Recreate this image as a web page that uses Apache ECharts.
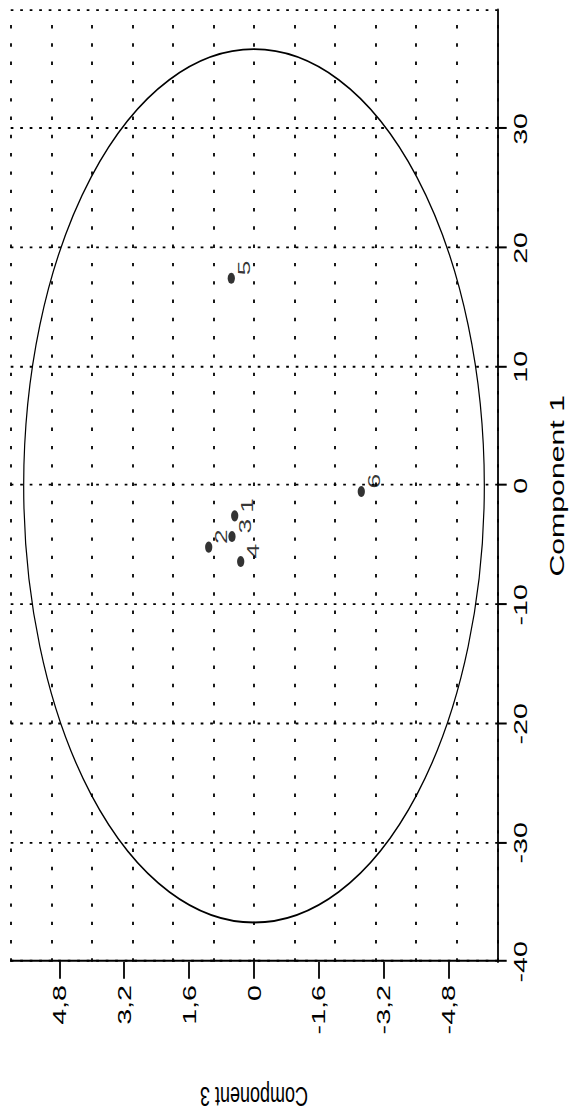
<!DOCTYPE html>
<html>
<head>
<meta charset="utf-8">
<script src="https://cdn.jsdelivr.net/npm/echarts@6/dist/echarts.min.js"></script>
<style>
  html, body { margin: 0; padding: 0; background: #ffffff; overflow: hidden; width: 570px; height: 1112px; }
  #chart { position: absolute; left: 0; top: 0; width: 717px; height: 570px;
           transform-origin: 0 0; transform: matrix(0, -1.5509, 1, 0, 0, 1112); }
</style>
</head>
<body>
<div id="chart"></div>
<script>
// ---- data ----
const pointLabels = ['1', '2', '3', '4', '5', '6'];
const component1 = [-2.52, -5.15, -4.26, -6.36, 17.45, -0.48];
const component3 = [0.476, 1.117, 0.543, 0.328, 0.56, -2.646];
const comp1TickLabels = [-40, -30, -20, -10, 0, 10, 20, 30];
const comp3TickLabels = [-4.8, -3.2, -1.6, 0, 1.6, 3.2, 4.8];
const ellipseCenter = [0, 0];
const ellipseRadii = [36.7, 5.68];
const comp1Name = 'Component 1';
const comp3Name = 'Component 3';

const FONT = 'Liberation Sans, Arial, sans-serif';
const chart = echarts.init(document.getElementById('chart'), null, { renderer: 'svg', width: 717, height: 570 });

const points = component1.map((v, i) => ({ value: [v, component3[i]], name: pointLabels[i] }));

function renderEllipse(params, api) {
  const c = api.coord([api.value(0), api.value(1)]);
  const s = api.size([api.value(2), api.value(3)]);
  const rx = s[0], ry = s[1];
  const d = 'M ' + (c[0] - rx) + ' ' + c[1] +
            ' A ' + rx + ' ' + ry + ' 0 1 0 ' + (c[0] + rx) + ' ' + c[1] +
            ' A ' + rx + ' ' + ry + ' 0 1 0 ' + (c[0] - rx) + ' ' + c[1] + ' Z';
  return {
    type: 'path',
    shape: { pathData: d, x: c[0] - rx, y: c[1] - ry, width: 2 * rx, height: 2 * ry },
    style: { fill: 'none', stroke: '#000', lineWidth: 1.2 }
  };
}

chart.setOption({
  animation: false,
  backgroundColor: '#ffffff',
  grid: { left: 96.9, right: 6.4, top: 10.7, bottom: 72.7, containLabel: false, outerBoundsMode: 'none' },
  xAxis: [
    { // grid lines for Component 1
      type: 'value', position: 'bottom', min: -40, max: 40, interval: 10,
      axisLine: { show: false, onZero: false }, axisTick: { show: false }, axisLabel: { show: false },
      splitLine: { show: true, lineStyle: { color: '#000', width: 1.2, type: [2.7, 6.8] } }
    },
    { // axis line, ticks and labels for Component 1
      type: 'value', position: 'bottom', min: -40, max: 40,
      name: comp1Name, nameLocation: 'middle', nameGap: 50,
      nameTextStyle: { fontFamily: FONT, fontSize: 19.5, color: '#000' },
      axisLine: { show: true, onZero: false, lineStyle: { color: '#000', width: 1.8 } },
      axisTick: { show: true, inside: false, length: 9.4, customValues: comp1TickLabels, lineStyle: { color: '#000', width: 1.3 } },
      axisLabel: { show: true, customValues: comp1TickLabels, margin: 14, fontFamily: FONT, fontSize: 18.5, color: '#000' },
      splitLine: { show: false }
    }
  ],
  yAxis: [
    { // grid lines for Component 3
      type: 'value', position: 'left', min: -6, max: 6, interval: 1,
      axisLine: { show: false, onZero: false }, axisTick: { show: false }, axisLabel: { show: false },
      splitLine: { show: true, lineStyle: { color: '#000', width: 1.8, type: [2.2, 9.6] } }
    },
    { // axis line, ticks and labels for Component 3
      type: 'value', position: 'left', min: -6, max: 6,
      name: comp3Name, nameLocation: 'middle', nameGap: 78, nameRotate: 90,
      nameTextStyle: { fontFamily: FONT, fontSize: 18, color: '#000' },
      axisLine: { show: true, onZero: false, lineStyle: { color: '#000', width: 1.3 } },
      axisTick: { show: true, inside: false, length: 11, customValues: comp3TickLabels, lineStyle: { color: '#000', width: 1.8 } },
      axisLabel: { show: true, customValues: comp3TickLabels, margin: 15, fontFamily: FONT, fontSize: 18.5, color: '#000',
                   formatter: v => String(v).replace('.', ',') },
      splitLine: { show: false }
    }
  ],
  series: [
    {
      type: 'custom', xAxisIndex: 0, yAxisIndex: 0, silent: true,
      renderItem: renderEllipse,
      data: [[ellipseCenter[0], ellipseCenter[1], ellipseRadii[0], ellipseRadii[1]]]
    },
    {
      type: 'scatter', xAxisIndex: 0, yAxisIndex: 0,
      symbol: 'circle', symbolSize: 7.2,
      itemStyle: { color: '#000' },
      label: { show: true, position: 'inside', offset: [6.7, 13], formatter: p => p.name,
               fontFamily: FONT, fontSize: 17, color: '#000', align: 'center', verticalAlign: 'middle' },
      data: points
    }
  ]
});
</script>
</body>
</html>
